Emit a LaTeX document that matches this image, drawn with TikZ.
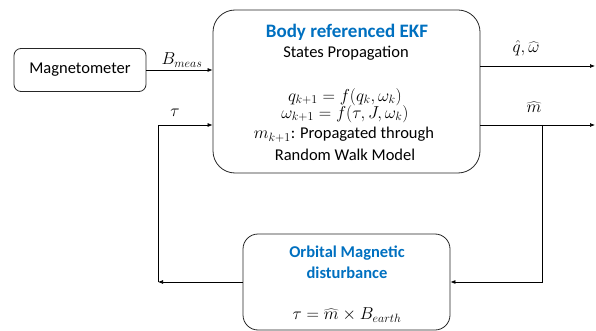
\documentclass[tikz,border=0pt]{standalone}
\usepackage{fontspec}
\setmainfont{Carlito}
\usetikzlibrary{arrows.meta}
\definecolor{tblue}{HTML}{0070C0}
\begin{document}
\begin{tikzpicture}[x=1pt,y=-1pt,
  blk/.style={draw=black!85, line width=0.8pt, inner sep=0pt},
  txt/.style={inner sep=0pt, font=\fontsize{16.5}{18}\selectfont},
  mth/.style={inner sep=0pt, font=\fontsize{17.2}{19}\selectfont},
  ttl/.style={inner sep=0pt, font=\fontsize{16.5}{18}\selectfont\bfseries, text=tblue},
  arr/.style={line width=0.7pt, -{Latex[length=5pt,width=4pt]}},
  ln/.style={line width=0.7pt}]
\useasboundingbox (0,0) rectangle (596,331);
\node[blk, txt, minimum width=132pt, minimum height=43pt, rounded corners=7pt] (mag) at (80,70) {Magnetometer};
\node[blk, minimum width=267pt, minimum height=163pt, rounded corners=22pt] (ekf) at (346.5,91.5) {};
\node[ttl, font=\fontsize{19}{21}\selectfont\bfseries] (t1) at (347,32) {Body referenced EKF};
\node[txt] (t2) at (346,53) {States Propagation};
\node[mth] (e1) at (345,97) {$q_{k+1}=f(q_k,\omega_k)$};
\node[mth] (e2) at (345,114) {$\omega_{k+1}=f(\tau,J,\omega_k)$};
\node[txt] (e3) at (344,135) {$m_{k+1}$: Propagated through};
\node[txt] (e4) at (345,155) {Random Walk Model};
\node[blk, minimum width=207pt, minimum height=96pt, rounded corners=15pt] (orb) at (346.5,282) {};
\node[ttl] (o1t) at (347,253) {Orbital Magnetic};
\node[ttl] (o2t) at (347,273) {disturbance};
\node[mth] (oe) at (347,315) {$\tau=\widehat{m}\times B_{earth}$};
% inputs
\draw[arr] (mag.east) -- (ekf.west |- mag.east);
\node[mth] (lb) at (182,60) {$B_{meas}$};
\coordinate (tc) at (158,125);
\coordinate (tl) at (158,282);
\draw[arr] (tc) -- (ekf.west |- tc);
\node[mth] (lt) at (175,113) {$\tau$};
% outputs
\coordinate (out1) at (595,66);
\coordinate (out2) at (595,125);
\draw[arr] (ekf.east |- out1) -- (out1);
\node[mth] (lq) at (526,48) {$\hat{q},\widehat{\omega}$};
\draw[arr] (ekf.east |- out2) -- (out2);
\node[mth] (lm) at (534,107) {$\widehat{m}$};
\coordinate (mj) at (542,125);
\coordinate (mc) at (542,282);
\draw[arr] (mj) -- (mc) -- (orb.east);
\draw[arr] (orb.west) -- (tl);
\draw[ln] (tl) -- (tc);
\end{tikzpicture}
\end{document}
